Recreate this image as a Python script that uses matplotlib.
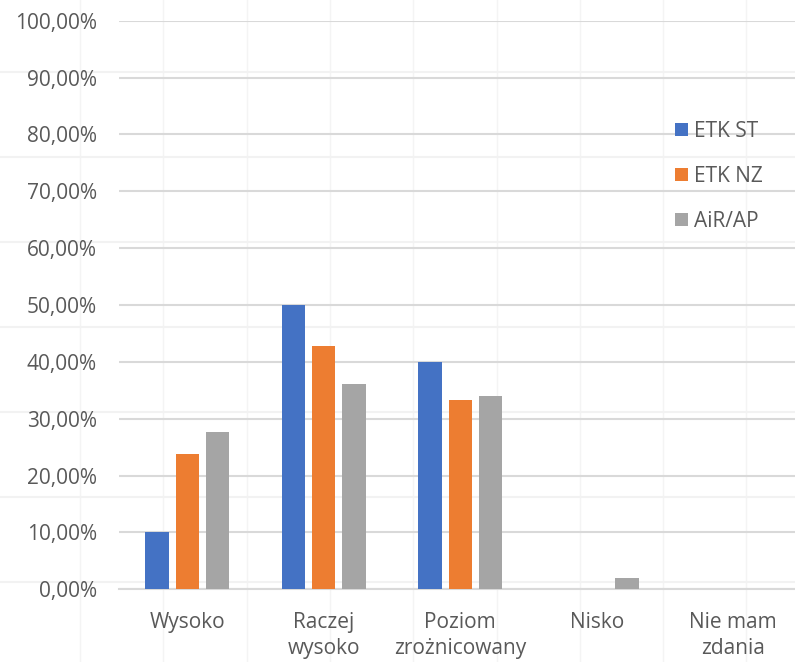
import numpy as np
import matplotlib.pyplot as plt
from matplotlib.lines import Line2D

# data (percent)
categories = ['Wysoko', 'Raczej\nwysoko', 'Poziom\nzrożnicowany', 'Nisko', 'Nie mam\nzdania']
series_names = ['ETK ST', 'ETK NZ', 'AiR/AP']
etk_st = [10.0, 50.0, 40.0, 0.0, 0.0]
etk_nz = [23.81, 42.86, 33.33, 0.0, 0.0]
air_ap = [27.6, 36.1, 34.0, 1.96, 0.0]
colors = ['#4472C4', '#ED7D31', '#A5A5A5']

plt.rcParams['font.family'] = ['Open Sans', 'DejaVu Sans']
txt = '#595959'
grid = '#D9D9D9'
fs = 15

fig = plt.figure(figsize=(7.95, 6.62), dpi=100)

# faint spreadsheet cell lines behind the chart
for xx in np.arange(80, 795, 83.3):
    fig.add_artist(Line2D([xx / 795, xx / 795], [0, 1], color='#F4F4F4', lw=1, zorder=0))
for yy in np.arange(72, 662, 85):
    fig.add_artist(Line2D([0, 1], [1 - yy / 662, 1 - yy / 662], color='#F2F2F2', lw=1.5, zorder=0))

ax = fig.add_axes([119 / 795, 1 - 589.3 / 662, 676 / 795, (589.3 - 20.7) / 662])
ax.patch.set_alpha(0)

x = np.arange(len(categories))
w = 0.172
step = 0.22
for i, (vals, name) in enumerate(zip([etk_st, etk_nz, air_ap], series_names)):
    ax.bar(x + (i - 1) * step, vals, width=w, color=colors[i], label=name, zorder=3)

ax.set_ylim(0, 100)
ax.set_xlim(-0.5, -0.5 + 676 / 136.5)
ax.set_yticks(np.arange(0, 101, 10))
ax.set_yticklabels([f'{v},00%' for v in range(0, 101, 10)])
ax.set_xticks(x)
ax.set_xticklabels(categories, linespacing=1.35)
ax.tick_params(length=0, labelsize=fs, colors=txt, pad=16)
ax.tick_params(axis='x', pad=16)
ax.yaxis.grid(True, color=grid, lw=1.5, zorder=0)
for s in ['top', 'right', 'left']:
    ax.spines[s].set_visible(False)
ax.spines['bottom'].set_color(grid)
ax.spines['bottom'].set_linewidth(1.5)

leg = ax.legend(loc='upper left', bbox_to_anchor=(675 / 795, 1 - 121 / 662), bbox_transform=fig.transFigure,
                frameon=False, fontsize=fs, handlelength=0.6, handleheight=0.6, handletextpad=0.3,
                labelspacing=1.15, borderpad=0, borderaxespad=0)
for t in leg.get_texts():
    t.set_color(txt)

fig.savefig('out.png', dpi=100)
